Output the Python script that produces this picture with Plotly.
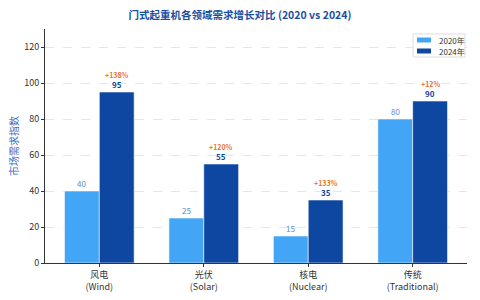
import plotly.graph_objects as go

categories = ["风电<br>(Wind)", "光伏<br>(Solar)", "核电<br>(Nuclear)", "传统<br>(Traditional)"]
v2020 = [40, 25, 15, 80]
v2024 = [95, 55, 35, 90]
growth = ["+138%", "+120%", "+133%", "+12%"]
series_names = ["2020年", "2024年"]

FONT = "Noto Sans CJK SC"
c2020 = "#42A5F5"
c2024 = "#0D47A1"

fig = go.Figure()
fig.add_trace(go.Bar(x=categories, y=v2020, name=series_names[0], showlegend=False,
                     marker=dict(color=c2020, line=dict(color="rgba(255,255,255,0.7)", width=0.8))))
fig.add_trace(go.Bar(x=categories, y=v2024, name=series_names[1], showlegend=False,
                     marker=dict(color=c2024, line=dict(color="rgba(255,255,255,0.7)", width=0.8))))

ann = []
for i, c in enumerate(categories):
    ann.append(dict(x=c, y=v2020[i], xref="x", yref="y", text=str(v2020[i]), showarrow=False,
                    xshift=-17.5, yshift=8, font=dict(size=8, color="#5a8ad0", family=FONT)))
    ann.append(dict(x=c, y=v2024[i], xref="x", yref="y", text="<b>%d</b>" % v2024[i], showarrow=False,
                    xshift=17.5, yshift=8, font=dict(size=8, color=c2024, family=FONT)))
    ann.append(dict(x=c, y=v2024[i], xref="x", yref="y", text="<b>%s</b>" % growth[i], showarrow=False,
                    xshift=17.5, yshift=17.5, font=dict(size=7, color="#E8712B", family=FONT)))

# custom compact legend (paper coords; plot area spans x 45..467, y 29..263)
W, H = 480, 300
l, r, t, b = 45, 13, 29, 37
pw, ph = W - l - r, H - t - b
def px(x): return (x - l) / pw
def py(y): return (H - b - y) / ph

shapes = [dict(type="rect", xref="paper", yref="paper", x0=px(413), x1=px(465), y0=py(57), y1=py(34),
               line=dict(color="#dddddd", width=1), fillcolor="white", layer="above")]
for k, (yy, col) in enumerate([(40, c2020), (51, c2024)]):
    shapes.append(dict(type="rect", xref="paper", yref="paper", x0=px(417), x1=px(431),
                       y0=py(yy + 2.5), y1=py(yy - 2.5), line=dict(width=0), fillcolor=col, layer="above"))
    ann.append(dict(x=px(437), y=py(yy), xref="paper", yref="paper", text=series_names[k], showarrow=False,
                    xanchor="left", yanchor="middle", font=dict(size=8, color="#333333", family=FONT)))

fig.update_layout(
    width=W, height=H,
    margin=dict(l=l, r=r, t=t, b=b),
    paper_bgcolor="white", plot_bgcolor="white",
    font=dict(family=FONT, size=9, color="#333333"),
    title=dict(text="<b>门式起重机各领域需求增长对比 (2020 vs 2024)</b>", x=0.5, xanchor="center",
               y=0.95, yanchor="middle", font=dict(size=10.5, color="#1A4FA0", family=FONT)),
    barmode="group", bargap=0.333, bargroupgap=0,
    annotations=ann, shapes=shapes,
    xaxis=dict(showline=True, linecolor="#333333", linewidth=1, ticks="outside", ticklen=3,
               tickcolor="#333333", tickfont=dict(size=9, color="#333333"), range=[-0.52, 3.52],
               automargin=False),
    yaxis=dict(range=[0, 130], tickvals=[0, 20, 40, 60, 80, 100, 120], showline=True, linecolor="#333333",
               linewidth=1, ticks="outside", ticklen=3, tickcolor="#333333", automargin=False,
               showgrid=True, gridcolor="#e6e6e6", griddash="dash", gridwidth=0.8, zeroline=False,
               title=dict(text="市场需求指数", font=dict(size=10, color="#3A6FC4"), standoff=3),
               tickfont=dict(size=9, color="#333333")),
)
fig.write_html("out.html")
